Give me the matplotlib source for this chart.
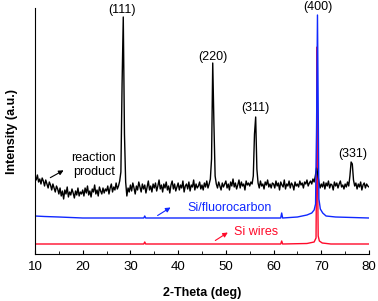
import numpy as np
import matplotlib.pyplot as plt

plt.rcParams['font.family'] = ['Liberation Sans', 'DejaVu Sans']

# reaction product (black), sampled every 0.25 deg from 10 to 80
black_x = np.arange(10, 80.001, 0.25)
black_y = [
    77, 74, 79, 72, 75, 70, 76, 73, 68, 74, 70, 66, 72, 69, 64, 70, 66, 62, 68, 65,
    60, 66, 58, 63, 55, 64, 60, 67, 57, 62, 59, 65, 61, 56, 63, 59, 66, 58, 62, 60,
    64, 58, 66, 61, 68, 59, 63, 57, 65, 62, 69, 60, 64, 58, 67, 63, 60, 66, 61, 65,
    63, 68, 60, 66, 70, 62, 67, 64, 71, 65, 68, 73, 82, 170, 237, 120, 72, 58, 66, 62,
    69, 63, 71, 66, 60, 68, 64, 72, 67, 62, 70, 65, 69, 61, 67, 73, 64, 68, 62, 70,
    66, 71, 63, 68, 74, 65, 69, 62, 70, 66, 72, 64, 68, 61, 69, 73, 65, 70, 63, 67,
    71, 64, 69, 66, 73, 62, 68, 70, 65, 72, 63, 69, 67, 74, 64, 70, 66, 68, 72, 65,
    69, 64, 71, 67, 73, 66, 70, 75, 95, 191, 130, 78, 70, 66, 72, 68, 64, 71, 67, 70,
    73, 66, 70, 64, 72, 68, 75, 67, 71, 65, 69, 74, 66, 72, 68, 70, 64, 73, 69, 71,
    68, 72, 70, 78, 120, 137, 85, 71, 66, 73, 68, 70, 65, 72, 69, 74, 67, 70, 66, 71,
    70, 66, 73, 68, 71, 64, 72, 69, 67, 74, 65, 70, 68, 73, 66, 71, 69, 64, 72, 68,
    70, 67, 73, 69, 71, 66, 72, 70, 74, 68, 71, 73, 70, 75, 72, 78, 86, 80, 72, 66,
    70, 67, 72, 65, 71, 68, 73, 66, 70, 69, 64, 72, 68, 71, 66, 70, 73, 67, 69, 65,
    70, 67, 72, 68, 78, 92, 90, 74, 68, 71, 65, 70, 67, 72, 64, 69, 71, 66, 70, 68,
    67,
]

# Si/fluorocarbon (blue)
blue_x = [10, 12, 15, 20, 25, 32.8, 33.0, 33.2, 40, 50, 61.5, 61.7, 61.9, 65, 67,
          68, 68.5, 68.8, 69.0, 69.2, 69.35, 69.5, 69.8, 70.3, 71, 73, 80]
blue_y = [38, 37.5, 37, 36, 36, 36, 38, 36, 36, 36, 36, 41, 36, 37, 39,
          41, 44, 50, 120, 239, 150, 55, 45, 41, 38, 37, 36]

# Si wires (red)
red_x = [10, 32.8, 33.0, 33.2, 61.5, 61.7, 61.9, 67, 68.5, 68.9, 69.0, 69.1, 69.2,
         69.35, 69.6, 70.2, 72, 80]
red_y = [10, 10, 12, 10, 10, 13, 10, 10.5, 12, 16, 80, 207, 90, 18, 13, 11, 10, 10]

peak_labels = ['(111)', '(220)', '(311)', '(400)', '(331)']
peak_pos = [28.2, 47.3, 56.1, 69.3, 76.6]
peak_lab_y = [244, 197, 146, 247, 100]

fig = plt.figure(figsize=(3.78, 3.01), dpi=100)
ax = fig.add_axes([35/378, 47/301, 334/378, 246/301])

ax.plot(red_x, red_y, color='#ff0a2a', lw=1.0)
ax.plot(black_x, black_y, color='black', lw=1.0)
ax.plot(blue_x, blue_y, color='#1028ff', lw=1.0)

for lab, px, py in zip(peak_labels, peak_pos, peak_lab_y):
    ax.text(px, py, lab, ha='center', va='center', fontsize=9)

ax.text(22.3, 89, 'reaction\nproduct', ha='center', va='center', fontsize=9,
        linespacing=1.15)
ax.annotate('', xy=(16.5, 85), xytext=(12.7, 75),
            arrowprops=dict(arrowstyle='-|>', color='black', lw=0.8,
                            mutation_scale=7))
ax.text(41.9, 46, 'Si/fluorocarbon', ha='left', va='center', fontsize=9,
        color='#1028ff')
ax.annotate('', xy=(38.9, 48), xytext=(35.2, 37),
            arrowprops=dict(arrowstyle='-|>', color='#1028ff', lw=0.8,
                            mutation_scale=7))
ax.text(51.7, 22, 'Si wires', ha='left', va='center', fontsize=9,
        color='#ff0a2a')
ax.annotate('', xy=(50.9, 23), xytext=(47.3, 12),
            arrowprops=dict(arrowstyle='-|>', color='#ff0a2a', lw=0.8,
                            mutation_scale=7))

ax.set_xlim(10, 80)
ax.set_ylim(0, 246)
ax.set_xticks(range(10, 81, 10))
ax.set_xticks(range(15, 80, 10), minor=True)
ax.set_yticks([])
ax.tick_params(axis='x', which='major', direction='in', length=3, labelsize=9.5, pad=5)
ax.tick_params(axis='x', which='minor', direction='in', length=2)
ax.spines['top'].set_visible(False)
ax.spines['right'].set_visible(False)
ax.set_xlabel('2-Theta (deg)', fontsize=9, fontweight='bold', labelpad=10)
ax.set_ylabel('Intensity (a.u.)', fontsize=9, fontweight='bold', labelpad=12)

fig.savefig('out.png', dpi=100)
